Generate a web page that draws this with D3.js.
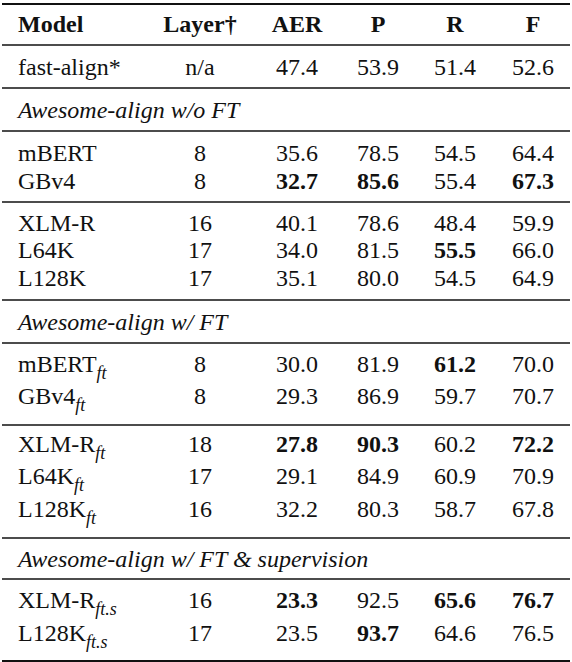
<!DOCTYPE html><html><head><meta charset="utf-8"><script src="https://cdn.jsdelivr.net/npm/d3@7"></script>
<style>body{margin:0;background:#fff}svg text{font-family:"Liberation Serif","DejaVu Serif",serif;fill:#111}</style></head><body><svg id="c" width="572" height="662"></svg><script>
const headers=["Model","Layer†","AER","P","R","F"];
const models=[["fast-align*",""],["mBERT",""],["GBv4",""],["XLM-R",""],["L64K",""],["L128K",""],["mBERT","ft"],["GBv4","ft"],["XLM-R","ft"],["L64K","ft"],["L128K","ft"],["XLM-R","ft.s"],["L128K","ft.s"]];
const layers=["n/a","8","8","16","17","17","8","8","18","17","16","16","17"];
const aer=["47.4","35.6","32.7","40.1","34.0","35.1","30.0","29.3","27.8","29.1","32.2","23.3","23.5"];
const pv=["53.9","78.5","85.6","78.6","81.5","80.0","81.9","86.9","90.3","84.9","80.3","92.5","93.7"];
const rv=["51.4","54.5","55.4","48.4","55.5","54.5","61.2","59.7","60.2","60.9","58.7","65.6","64.6"];
const fv=["52.6","64.4","67.3","59.9","66.0","64.9","70.0","70.7","72.2","70.9","67.8","76.7","76.5"];
const bold=[[],["aer2","p2","f2"],["r4"],["r6"],["aer8","p8","f8"],["aer11","r11","f11"],["p12"]].flat();
const sections=[["Awesome-align w/o FT",110],["Awesome-align w/ FT",322],["Awesome-align w/ FT & supervision",559]];
const rowY=[67,153,181,223,250,278,364,396,444,476,509,600,633];
const rules=[[4,2],[45,1.3],[88,1.3],[131,1.3],[202,1.3],[300,1.3],[343,1.3],[425,1.3],[538,1.3],[579,1.3],[661,2]];
const svg=d3.select("#c");
const colX=[18,200,297,378,455,533];
const fs=24;
svg.selectAll("line.r").data(rules).join("line").attr("x1",2).attr("x2",570).attr("y1",d=>d[0]).attr("y2",d=>d[0]).attr("stroke","#111").attr("stroke-width",d=>d[1]);
svg.selectAll("text.h").data(headers).join("text").attr("x",(d,i)=>colX[i]).attr("y",24).attr("dy","0.35em").attr("text-anchor",(d,i)=>i?"middle":"start").attr("font-size",fs).attr("font-weight","bold").text(d=>d);
svg.selectAll("text.s").data(sections).join("text").attr("x",18).attr("y",d=>d[1]).attr("dy","0.35em").attr("font-size",fs).attr("font-style","italic").text(d=>d[0]);
models.forEach((m,i)=>{
  const y=rowY[i];
  const t=svg.append("text").attr("x",18).attr("y",y).attr("dy","0.35em").attr("font-size",fs);
  t.append("tspan").text(m[0]);
  if(m[1]) t.append("tspan").attr("font-style","italic").attr("font-size",18).attr("dy",7).text(m[1]);
  const vals=[layers[i],aer[i],pv[i],rv[i],fv[i]],keys=["l","aer","p","r","f"];
  vals.forEach((v,j)=>svg.append("text").attr("x",colX[j+1]).attr("y",y).attr("dy","0.35em").attr("text-anchor","middle").attr("font-size",fs).attr("font-weight",bold.includes(keys[j]+i)?"bold":"normal").text(v));
});
</script></body></html>
